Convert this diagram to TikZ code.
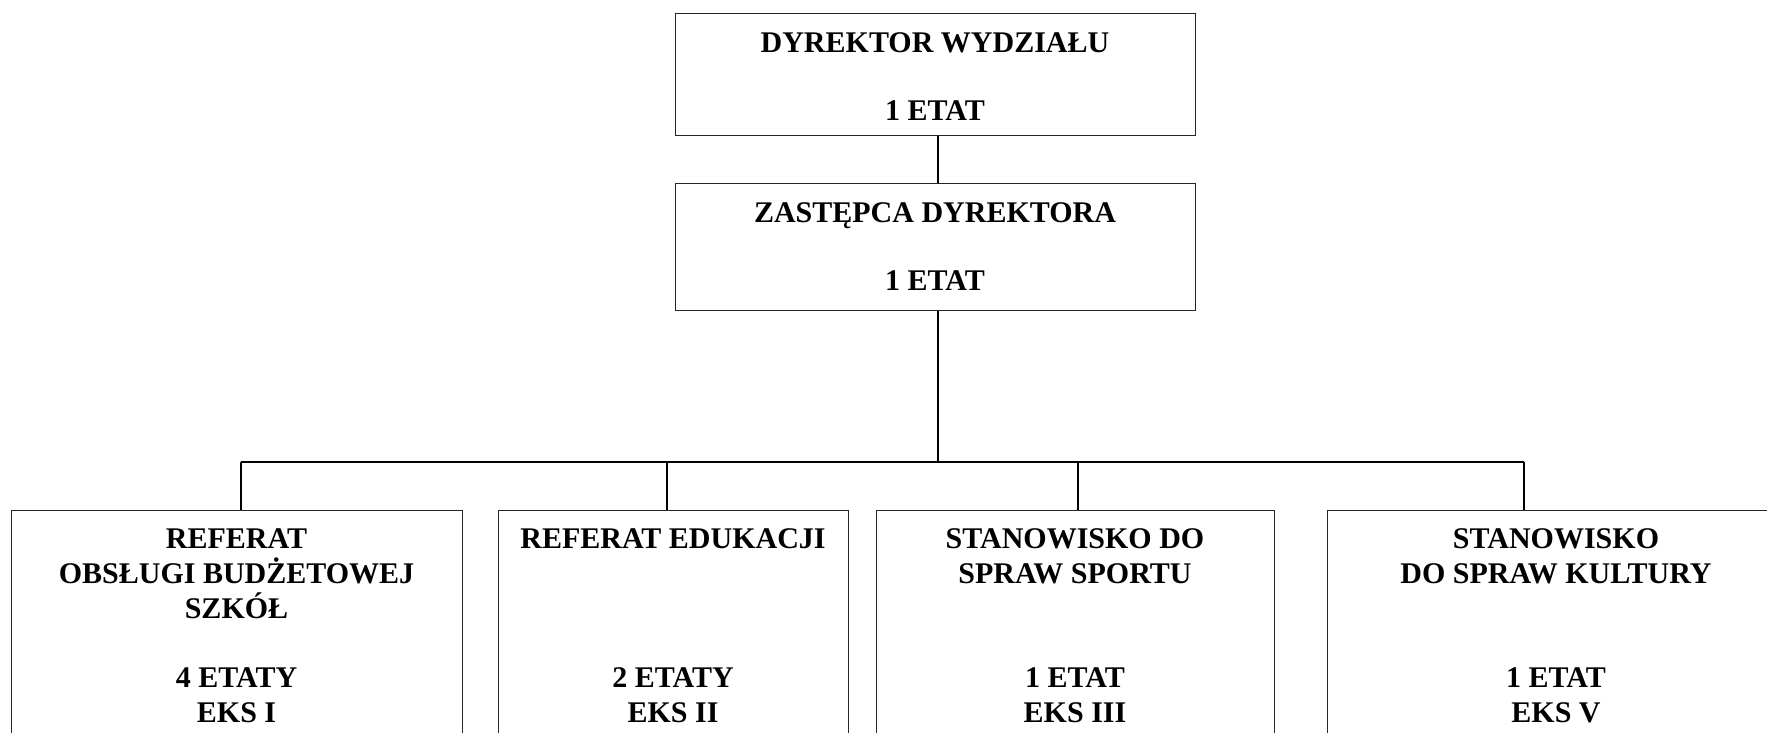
\documentclass[tikz,border=0pt]{standalone}
\usepackage{fontspec}
\setmainfont{Liberation Serif}
\begin{document}
\begin{tikzpicture}[x=1pt,y=-1pt,
 box/.style={draw=black!85, line width=1pt, rectangle, inner sep=0pt, anchor=north west},
 conn/.style={draw=black, line width=2pt},
 lbl/.style={font=\fontsize{30}{35}\selectfont\bfseries, anchor=base, inner sep=0pt}]
\useasboundingbox (0,0) rectangle (1767,733);
\clip (0,0) rectangle (1767,733);
% boxes
\node[box, minimum width=520pt, minimum height=121.5pt] (dyr) at (675,13.5) {};
\node[box, minimum width=520pt, minimum height=127.5pt] (zas) at (675,182.5) {};
\node[box, minimum width=451pt, minimum height=260pt] (b1) at (11,509.5) {};
\node[box, minimum width=350pt, minimum height=260pt] (b2) at (498,509.5) {};
\node[box, minimum width=398pt, minimum height=260pt] (b3) at (876,509.5) {};
\node[box, minimum width=460pt, minimum height=260pt] (b4) at (1327,509.5) {};
% texts
\node[lbl] (t1a) at (935,53) {DYREKTOR WYDZIAŁU};
\node[lbl] (t1b) at (935,121) {1 ETAT};
\node[lbl] (t2a) at (935,222) {ZASTĘPCA DYREKTORA};
\node[lbl] (t2b) at (935,290) {1 ETAT};
\node[lbl] (a1) at (236.5,548) {REFERAT};
\node[lbl] (a2) at (236.5,583) {OBSŁUGI BUDŻETOWEJ};
\node[lbl] (a3) at (236.5,618) {SZKÓŁ};
\node[lbl] (a4) at (236.5,687) {4 ETATY};
\node[lbl] (a5) at (236.5,722) {EKS I};
\node[lbl] (c1) at (673,548) {REFERAT EDUKACJI};
\node[lbl] (c2) at (673,687) {2 ETATY};
\node[lbl] (c3) at (673,722) {EKS II};
\node[lbl] (d1) at (1075,548) {STANOWISKO DO};
\node[lbl] (d2) at (1075,583) {SPRAW SPORTU};
\node[lbl] (d3) at (1075,687) {1 ETAT};
\node[lbl] (d4) at (1075,722) {EKS III};
\node[lbl] (e1) at (1556,548) {STANOWISKO};
\node[lbl] (e2) at (1556,583) {DO SPRAW KULTURY};
\node[lbl] (e3) at (1556,687) {1 ETAT};
\node[lbl] (e4) at (1556,722) {EKS V};
% connectors
\coordinate (bus) at (937.5,462);
\coordinate (busL) at (241,462);
\coordinate (busR) at (1524,462);
\draw[conn] (dyr.south -| bus) -- (zas.north -| bus);
\draw[conn] (zas.south -| bus) -- (bus);
\draw[conn] (busL) -- (busR);
\draw[conn] (busL) -- (busL |- b1.north);
\draw[conn] (667,462) -- (b2.north -| 667,0);
\draw[conn] (1078,462) -- (b3.north -| 1078,0);
\draw[conn] (busR) -- (busR |- b4.north);
\end{tikzpicture}
\end{document}
